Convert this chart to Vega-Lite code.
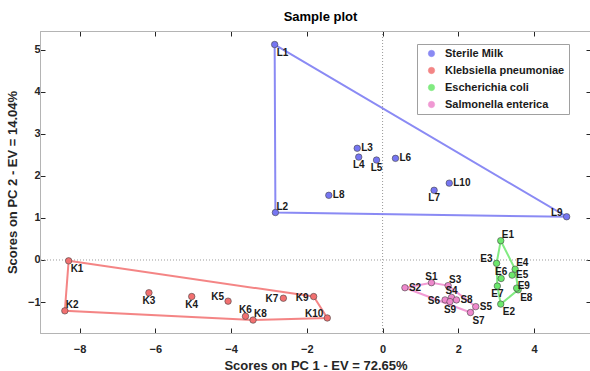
{
  "$schema": "https://vega.github.io/schema/vega-lite/v6.json",
  "autosize": {"type": "none"},
  "width": 551,
  "height": 302,
  "padding": {"left": 40, "top": 31, "right": 0, "bottom": 38},
  "background": "white",
  "title": {
    "text": "Sample plot",
    "font": "Liberation Sans",
    "fontSize": 13,
    "fontWeight": "bold",
    "color": "#000000",
    "offset": 7,
    "dx": 5
  },
  "config": {
    "view": {"stroke": "#b4b4b4", "strokeWidth": 1},
    "font": "Liberation Sans",
    "axis": {
      "grid": false,
      "domainColor": "#b4b4b4",
      "tickColor": "#262626",
      "tickSize": -5,
      "labelFont": "Liberation Sans",
      "labelFontSize": 11,
      "labelFontWeight": "bold",
      "labelColor": "#262626",
      "titleFont": "Liberation Sans",
      "titleFontSize": 13,
      "titleFontWeight": "bold",
      "titleColor": "#262626"
    },
    "legend": {
      "title": null,
      "orient": "none",
      "legendX": 377,
      "legendY": 13,
      "fillColor": "white",
      "strokeColor": "#a0a0a0",
      "padding": 4,
      "symbolOffset": 5,
      "symbolType": "circle",
      "symbolSize": 40,
      "symbolStrokeColor": "#444444",
      "symbolStrokeWidth": 0.6,
      "labelOffset": 8,
      "labelFont": "Liberation Sans",
      "labelFontSize": 11,
      "labelFontWeight": "bold",
      "labelColor": "#1a1a1a",
      "rowPadding": 5
    }
  },
  "datasets": {
    "points": [
      {"id": "L1", "group": "Sterile Milk", "pc1": -2.85, "pc2": 5.13},
      {"id": "L2", "group": "Sterile Milk", "pc1": -2.83, "pc2": 1.13},
      {"id": "L3", "group": "Sterile Milk", "pc1": -0.67, "pc2": 2.66},
      {"id": "L4", "group": "Sterile Milk", "pc1": -0.63, "pc2": 2.45},
      {"id": "L5", "group": "Sterile Milk", "pc1": -0.16, "pc2": 2.38},
      {"id": "L6", "group": "Sterile Milk", "pc1": 0.34, "pc2": 2.42},
      {"id": "L7", "group": "Sterile Milk", "pc1": 1.36, "pc2": 1.66},
      {"id": "L8", "group": "Sterile Milk", "pc1": -1.42, "pc2": 1.54},
      {"id": "L9", "group": "Sterile Milk", "pc1": 4.86, "pc2": 1.03},
      {"id": "L10", "group": "Sterile Milk", "pc1": 1.76, "pc2": 1.83},
      {"id": "K1", "group": "Klebsiella pneumoniae", "pc1": -8.29, "pc2": -0.02},
      {"id": "K2", "group": "Klebsiella pneumoniae", "pc1": -8.39, "pc2": -1.21},
      {"id": "K3", "group": "Klebsiella pneumoniae", "pc1": -6.17, "pc2": -0.78},
      {"id": "K4", "group": "Klebsiella pneumoniae", "pc1": -5.04, "pc2": -0.87},
      {"id": "K5", "group": "Klebsiella pneumoniae", "pc1": -4.08, "pc2": -0.98},
      {"id": "K6", "group": "Klebsiella pneumoniae", "pc1": -3.62, "pc2": -1.34},
      {"id": "K7", "group": "Klebsiella pneumoniae", "pc1": -2.62, "pc2": -0.91},
      {"id": "K8", "group": "Klebsiella pneumoniae", "pc1": -3.42, "pc2": -1.43},
      {"id": "K9", "group": "Klebsiella pneumoniae", "pc1": -1.82, "pc2": -0.87},
      {"id": "K10", "group": "Klebsiella pneumoniae", "pc1": -1.46, "pc2": -1.38},
      {"id": "E1", "group": "Escherichia coli", "pc1": 3.12, "pc2": 0.46},
      {"id": "E2", "group": "Escherichia coli", "pc1": 3.12, "pc2": -1.05},
      {"id": "E3", "group": "Escherichia coli", "pc1": 3.01, "pc2": -0.08},
      {"id": "E4", "group": "Escherichia coli", "pc1": 3.5, "pc2": -0.22},
      {"id": "E5", "group": "Escherichia coli", "pc1": 3.42, "pc2": -0.36},
      {"id": "E6", "group": "Escherichia coli", "pc1": 3.13, "pc2": -0.44},
      {"id": "E7", "group": "Escherichia coli", "pc1": 3.03, "pc2": -0.62},
      {"id": "E8", "group": "Escherichia coli", "pc1": 3.58, "pc2": -0.71},
      {"id": "E9", "group": "Escherichia coli", "pc1": 3.54, "pc2": -0.67},
      {"id": "S1", "group": "Salmonella enterica", "pc1": 1.29, "pc2": -0.54},
      {"id": "S2", "group": "Salmonella enterica", "pc1": 0.59, "pc2": -0.66},
      {"id": "S3", "group": "Salmonella enterica", "pc1": 1.73, "pc2": -0.61},
      {"id": "S4", "group": "Salmonella enterica", "pc1": 1.82, "pc2": -0.89},
      {"id": "S5", "group": "Salmonella enterica", "pc1": 2.46, "pc2": -1.11},
      {"id": "S6", "group": "Salmonella enterica", "pc1": 1.65, "pc2": -0.95},
      {"id": "S7", "group": "Salmonella enterica", "pc1": 2.32, "pc2": -1.25},
      {"id": "S8", "group": "Salmonella enterica", "pc1": 1.95, "pc2": -0.95},
      {"id": "S9", "group": "Salmonella enterica", "pc1": 1.78, "pc2": -0.99}
    ],
    "hulls": [
      {"group": "Sterile Milk", "seq": 1, "id": "L1"},
      {"group": "Sterile Milk", "seq": 2, "id": "L9"},
      {"group": "Sterile Milk", "seq": 3, "id": "L2"},
      {"group": "Sterile Milk", "seq": 4, "id": "L1"},
      {"group": "Klebsiella pneumoniae", "seq": 1, "id": "K1"},
      {"group": "Klebsiella pneumoniae", "seq": 2, "id": "K9"},
      {"group": "Klebsiella pneumoniae", "seq": 3, "id": "K10"},
      {"group": "Klebsiella pneumoniae", "seq": 4, "id": "K8"},
      {"group": "Klebsiella pneumoniae", "seq": 5, "id": "K2"},
      {"group": "Klebsiella pneumoniae", "seq": 6, "id": "K1"},
      {"group": "Escherichia coli", "seq": 1, "id": "E1"},
      {"group": "Escherichia coli", "seq": 2, "id": "E4"},
      {"group": "Escherichia coli", "seq": 3, "id": "E8"},
      {"group": "Escherichia coli", "seq": 4, "id": "E2"},
      {"group": "Escherichia coli", "seq": 5, "id": "E7"},
      {"group": "Escherichia coli", "seq": 6, "id": "E3"},
      {"group": "Escherichia coli", "seq": 7, "id": "E1"},
      {"group": "Salmonella enterica", "seq": 1, "id": "S2"},
      {"group": "Salmonella enterica", "seq": 2, "id": "S1"},
      {"group": "Salmonella enterica", "seq": 3, "id": "S3"},
      {"group": "Salmonella enterica", "seq": 4, "id": "S5"},
      {"group": "Salmonella enterica", "seq": 5, "id": "S7"},
      {"group": "Salmonella enterica", "seq": 6, "id": "S2"}
    ]
  },
  "data": {"name": "points"},
  "resolve": {"axis": {"x": "independent", "y": "independent"}},
  "layer": [
    {
      "description": "dotted zero line, PC 1",
      "data": {"values": [{}]},
      "mark": {"type": "rule", "color": "#9a9a9a", "strokeWidth": 1, "strokeDash": [1, 2]},
      "encoding": {
        "x": {"datum": 0, "type": "quantitative", "scale": {"domain": [-9.046, 5.503], "nice": false, "zero": false}, "axis": null}
      }
    },
    {
      "description": "dotted zero line, PC 2",
      "data": {"values": [{}]},
      "mark": {"type": "rule", "color": "#9a9a9a", "strokeWidth": 1, "strokeDash": [1, 2]},
      "encoding": {
        "y": {"datum": 0, "type": "quantitative", "scale": {"domain": [-1.738, 5.452], "nice": false, "zero": false}, "axis": null}
      }
    },
    {
      "description": "class outlines, drawn through the hull vertices",
      "data": {"name": "hulls"},
      "transform": [
        {"lookup": "id", "from": {"data": {"name": "points"}, "key": "id", "fields": ["pc1", "pc2"]}}
      ],
      "mark": {"type": "line", "strokeWidth": 2, "opacity": 0.85},
      "encoding": {
        "x": {"field": "pc1", "type": "quantitative", "scale": {"domain": [-9.046, 5.503], "nice": false, "zero": false},
              "axis": {"orient": "top", "values": [-8, -6, -4, -2, 0, 2, 4], "labels": false, "title": null}},
        "y": {"field": "pc2", "type": "quantitative", "scale": {"domain": [-1.738, 5.452], "nice": false, "zero": false},
              "axis": {"orient": "right", "values": [-1, 0, 1, 2, 3, 4, 5], "labels": false, "title": null}},
        "order": {"field": "seq", "type": "quantitative"},
        "detail": {"field": "group"},
        "color": {"field": "group", "type": "nominal",
                  "scale": {"domain": ["Sterile Milk", "Klebsiella pneumoniae", "Escherichia coli", "Salmonella enterica"],
                            "range": ["#7676f2", "#f27070", "#6ce86c", "#ee88cc"]}}
      }
    },
    {
      "description": "sample scores",
      "mark": {"type": "point", "shape": "circle", "filled": true, "size": 42, "opacity": 1, "stroke": "#444444", "strokeWidth": 0.6},
      "encoding": {
        "x": {"field": "pc1", "type": "quantitative", "scale": {"domain": [-9.046, 5.503], "nice": false, "zero": false},
              "axis": {"orient": "bottom", "values": [-8, -6, -4, -2, 0, 2, 4], "labelPadding": 15, "title": "Scores on PC 1 - EV = 72.65%", "titlePadding": 5}},
        "y": {"field": "pc2", "type": "quantitative", "scale": {"domain": [-1.738, 5.452], "nice": false, "zero": false},
              "axis": {"orient": "left", "values": [-1, 0, 1, 2, 3, 4, 5], "labelPadding": 5, "title": "Scores on PC 2 - EV = 14.04%", "titlePadding": 8}},
        "color": {"field": "group", "type": "nominal",
                  "scale": {"domain": ["Sterile Milk", "Klebsiella pneumoniae", "Escherichia coli", "Salmonella enterica"],
                            "range": ["#7676f2", "#f27070", "#6ce86c", "#ee88cc"]}}
      }
    },
    {
      "description": "labels to the right",
      "transform": [{"filter": {"field": "id", "oneOf": ["L3", "L6", "L8", "L10", "S2", "S8", "S5", "E5"]}}],
      "mark": {"type": "text", "align": "left", "baseline": "middle", "dx": 4, "dy": 0, "font": "Liberation Sans", "fontSize": 10, "fontWeight": "bold", "color": "#1a1a1a"},
      "encoding": {
        "x": {"field": "pc1", "type": "quantitative", "axis": null},
        "y": {"field": "pc2", "type": "quantitative", "axis": null},
        "text": {"field": "id"}
      }
    },
    {
      "description": "labels below",
      "transform": [{"filter": {"field": "id", "oneOf": ["L4", "L5", "L7", "K3", "K4", "S9", "E7"]}}],
      "mark": {"type": "text", "align": "center", "baseline": "middle", "dx": 0, "dy": 8, "font": "Liberation Sans", "fontSize": 10, "fontWeight": "bold", "color": "#1a1a1a"},
      "encoding": {
        "x": {"field": "pc1", "type": "quantitative", "axis": null},
        "y": {"field": "pc2", "type": "quantitative", "axis": null},
        "text": {"field": "id"}
      }
    },
    {
      "description": "labels below right",
      "transform": [{"filter": {"field": "id", "oneOf": ["L1", "K1", "S7", "E2", "E8"]}}],
      "mark": {"type": "text", "align": "left", "baseline": "middle", "dx": 2, "dy": 8, "font": "Liberation Sans", "fontSize": 10, "fontWeight": "bold", "color": "#1a1a1a"},
      "encoding": {
        "x": {"field": "pc1", "type": "quantitative", "axis": null},
        "y": {"field": "pc2", "type": "quantitative", "axis": null},
        "text": {"field": "id"}
      }
    },
    {
      "description": "labels above right",
      "transform": [{"filter": {"field": "id", "oneOf": ["L2", "K2", "K8", "E1", "E4", "S3"]}}],
      "mark": {"type": "text", "align": "left", "baseline": "middle", "dx": 1, "dy": -6, "font": "Liberation Sans", "fontSize": 10, "fontWeight": "bold", "color": "#1a1a1a"},
      "encoding": {
        "x": {"field": "pc1", "type": "quantitative", "axis": null},
        "y": {"field": "pc2", "type": "quantitative", "axis": null},
        "text": {"field": "id"}
      }
    },
    {
      "description": "label just above right",
      "transform": [{"filter": {"field": "id", "oneOf": ["E9"]}}],
      "mark": {"type": "text", "align": "left", "baseline": "middle", "dx": 1, "dy": -2, "font": "Liberation Sans", "fontSize": 10, "fontWeight": "bold", "color": "#1a1a1a"},
      "encoding": {
        "x": {"field": "pc1", "type": "quantitative", "axis": null},
        "y": {"field": "pc2", "type": "quantitative", "axis": null},
        "text": {"field": "id"}
      }
    },
    {
      "description": "labels above",
      "transform": [{"filter": {"field": "id", "oneOf": ["E6", "S1", "S4", "K6"]}}],
      "mark": {"type": "text", "align": "center", "baseline": "middle", "dx": 0, "dy": -6, "font": "Liberation Sans", "fontSize": 10, "fontWeight": "bold", "color": "#1a1a1a"},
      "encoding": {
        "x": {"field": "pc1", "type": "quantitative", "axis": null},
        "y": {"field": "pc2", "type": "quantitative", "axis": null},
        "text": {"field": "id"}
      }
    },
    {
      "description": "labels to the left",
      "transform": [{"filter": {"field": "id", "oneOf": ["K7", "S6", "K9"]}}],
      "mark": {"type": "text", "align": "right", "baseline": "middle", "dx": -5, "dy": 1, "font": "Liberation Sans", "fontSize": 10, "fontWeight": "bold", "color": "#1a1a1a"},
      "encoding": {
        "x": {"field": "pc1", "type": "quantitative", "axis": null},
        "y": {"field": "pc2", "type": "quantitative", "axis": null},
        "text": {"field": "id"}
      }
    },
    {
      "description": "labels above left",
      "transform": [{"filter": {"field": "id", "oneOf": ["L9", "K5", "K10", "E3"]}}],
      "mark": {"type": "text", "align": "right", "baseline": "middle", "dx": -4, "dy": -4, "font": "Liberation Sans", "fontSize": 10, "fontWeight": "bold", "color": "#1a1a1a"},
      "encoding": {
        "x": {"field": "pc1", "type": "quantitative", "axis": null},
        "y": {"field": "pc2", "type": "quantitative", "axis": null},
        "text": {"field": "id"}
      }
    }
  ]
}
